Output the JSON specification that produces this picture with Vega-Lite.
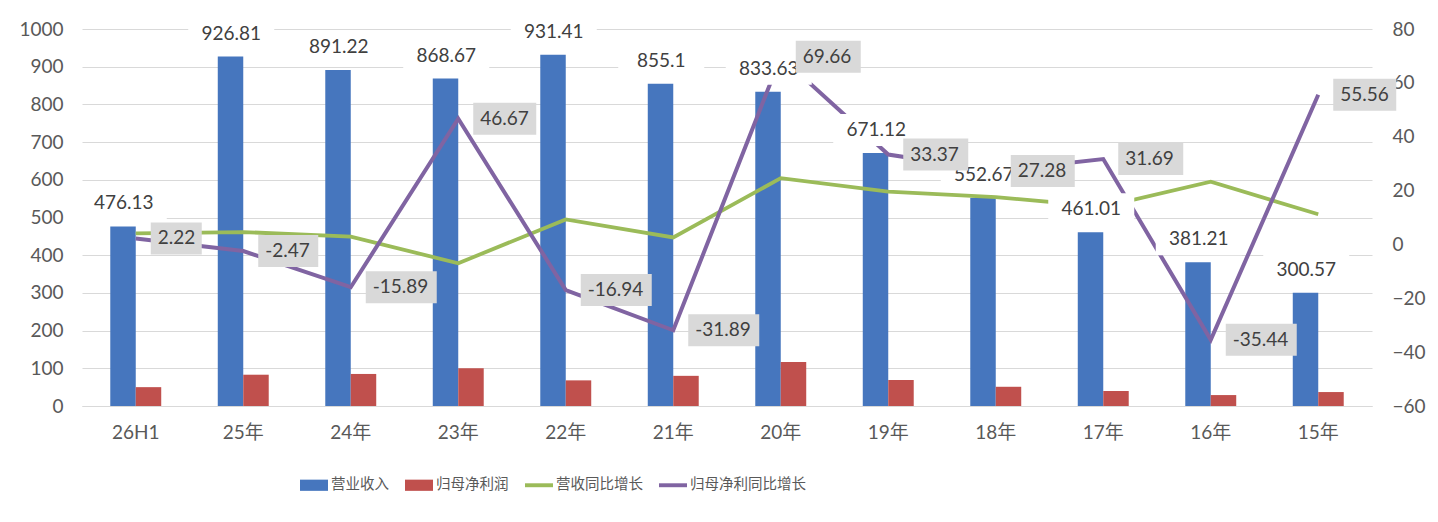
{
  "$schema": "https://vega.github.io/schema/vega-lite/v6.json",
  "width": 1290,
  "height": 377,
  "autosize": {"type": "none"},
  "padding": {"left": 82, "top": 29, "right": 66, "bottom": 116},
  "background": "white",
  "config": {
    "font": "Lato, 'Noto Sans CJK SC', sans-serif",
    "view": {"stroke": null},
    "axis": {"labelFont": "Lato, 'Noto Sans CJK SC', sans-serif", "labelFontSize": 19, "labelColor": "#595959", "ticks": false, "domain": false, "title": null}
  },
  "datasets": {
    "main": [
      {"cat": "26H1", "营业收入": 476.13, "归母净利润": 50, "营收同比增长": 4.1, "归母净利同比增长": 2.22},
      {"cat": "25年", "营业收入": 926.81, "归母净利润": 83, "营收同比增长": 4.6, "归母净利同比增长": -2.47},
      {"cat": "24年", "营业收入": 891.22, "归母净利润": 85, "营收同比增长": 2.9, "归母净利同比增长": -15.89},
      {"cat": "23年", "营业收入": 868.67, "归母净利润": 100, "营收同比增长": -7.0, "归母净利同比增长": 46.67},
      {"cat": "22年", "营业收入": 931.41, "归母净利润": 68, "营收同比增长": 9.3, "归母净利同比增长": -16.94},
      {"cat": "21年", "营业收入": 855.1, "归母净利润": 80, "营收同比增长": 2.6, "归母净利同比增长": -31.89},
      {"cat": "20年", "营业收入": 833.63, "归母净利润": 117, "营收同比增长": 24.6, "归母净利同比增长": 69.66},
      {"cat": "19年", "营业收入": 671.12, "归母净利润": 69, "营收同比增长": 19.6, "归母净利同比增长": 33.37},
      {"cat": "18年", "营业收入": 552.67, "归母净利润": 51, "营收同比增长": 17.6, "归母净利同比增长": 27.28},
      {"cat": "17年", "营业收入": 461.01, "归母净利润": 40, "营收同比增长": 14.0, "归母净利同比增长": 31.69},
      {"cat": "16年", "营业收入": 381.21, "归母净利润": 29, "营收同比增长": 23.3, "归母净利同比增长": -35.44},
      {"cat": "15年", "营业收入": 300.57, "归母净利润": 37, "营收同比增长": 11.2, "归母净利同比增长": 55.56}
    ]
  },
  "data": {"name": "main"},
  "encoding": {
    "x": {
      "field": "cat", "type": "nominal", "sort": null,
      "scale": {"domain": ["26H1","25年","24年","23年","22年","21年","20年","19年","18年","17年","16年","15年"], "paddingInner": 0.526, "paddingOuter": 0.263},
      "axis": {"labelAngle": 0, "domain": true, "domainColor": "#d9d9d9", "domainWidth": 1, "labelPadding": 17, "grid": false}
    }
  },
  "layer": [
    {
      "transform": [{"fold": ["营业收入", "归母净利润"], "as": ["series", "value"]}],
      "mark": {"type": "bar"},
      "encoding": {
        "xOffset": {"field": "series", "type": "nominal", "scale": {"domain": ["营业收入", "归母净利润"], "paddingInner": 0, "paddingOuter": 0}},
        "y": {"field": "value", "type": "quantitative", "scale": {"domain": [0, 1000], "nice": false, "zero": true},
          "axis": {"orient": "left", "format": "d", "values": [0,100,200,300,400,500,600,700,800,900,1000], "grid": true, "gridColor": "#d9d9d9", "gridWidth": 1, "labelPadding": 19}},
        "color": {
          "field": "series", "type": "nominal",
          "scale": {"domain": ["营业收入", "归母净利润", "营收同比增长", "归母净利同比增长"], "range": ["#4676BE", "#C0504D", "#9BBB59", "#8064A2"]},
          "legend": {
            "orient": "none", "legendX": 218, "legendY": 442, "direction": "horizontal", "title": null,
            "symbolSize": 784, "labelFontSize": 14.5, "labelFont": "'Noto Sans CJK SC', sans-serif", "labelColor": "#595959",
            "columnPadding": 16, "labelOffset": 3, "padding": 0,
            "encode": {"symbols": {"update": {
              "shape": {"signal": "(datum.value === '营业收入' || datum.value === '归母净利润') ? 'M-1,-0.4H1V0.4H-1Z' : 'M-1,-0.14H1V0.14H-1Z'"},
              "fill": {"scale": "color", "field": "value"},
              "stroke": {"value": "transparent"},
              "strokeWidth": {"value": 0},
              "opacity": {"value": 1}
            }}}
          }
        }
      }
    },
    {
      "mark": {"type": "line", "strokeWidth": 3.8},
      "encoding": {
        "y": {"field": "营收同比增长", "type": "quantitative", "scale": {"domain": [-60, 80], "nice": false, "zero": false},
          "axis": {"orient": "right", "values": [-60,-40,-20,0,20,40,60,80], "grid": false, "labelPadding": 20}},
        "color": {"datum": "营收同比增长"}
      }
    },
    {
      "mark": {"type": "line", "strokeWidth": 4},
      "encoding": {
        "y": {"field": "归母净利同比增长", "type": "quantitative", "scale": {"domain": [-60, 80], "nice": false, "zero": false}, "axis": null},
        "color": {"datum": "归母净利同比增长"}
      }
    },
    {
      "mark": {"type": "point", "filled": true, "fill": "white", "opacity": 1, "strokeWidth": 0, "size": 7396, "shape": "M-1.279,-0.907H0.721V-0.163H-1.279Z"},
      "encoding": {
        "y": {"field": "营业收入", "type": "quantitative", "scale": {"domain": [0, 1000], "nice": false}, "axis": null}
      }
    },
    {
      "mark": {"type": "text", "dx": -12, "dy": -23, "baseline": "middle", "align": "center", "fontSize": 19, "color": "#404040"},
      "encoding": {
        "y": {"field": "营业收入", "type": "quantitative", "scale": {"domain": [0, 1000], "nice": false}, "axis": null},
        "text": {"field": "营业收入", "type": "nominal"}
      }
    },
    {
      "mark": {"type": "point", "filled": true, "fill": "#d9d9d9", "opacity": 1, "strokeWidth": 0, "size": 400},
      "encoding": {
        "y": {"field": "归母净利同比增长", "type": "quantitative", "scale": {"domain": [-60, 80], "nice": false, "zero": false}, "axis": null},
        "shape": {"field": "cat", "type": "nominal", "legend": null,
          "scale": {"domain": ["26H1","25年","24年","23年","22年","21年","20年","19年","18年","17年","16年","15年"],
            "range": ["M1.5,-1.6H6.6V1.6H1.5Z","M1.5,-1.6H7.5V1.6H1.5Z","M1.5,-1.6H8.6V1.6H1.5Z","M1.5,-1.6H7.8V1.6H1.5Z","M1.5,-1.6H8.6V1.6H1.5Z","M1.5,-1.6H8.6V1.6H1.5Z","M1.5,-1.6H8.0V1.6H1.5Z","M1.5,-1.6H8.0V1.6H1.5Z","M1.5,-1.6H7.9V1.6H1.5Z","M1.5,-1.6H8.0V1.6H1.5Z","M1.5,-1.6H8.6V1.6H1.5Z","M1.5,-1.6H7.8V1.6H1.5Z"]}}
      }
    },
    {
      "mark": {"type": "text", "dx": 22, "baseline": "middle", "align": "left", "fontSize": 19, "color": "#404040"},
      "encoding": {
        "y": {"field": "归母净利同比增长", "type": "quantitative", "scale": {"domain": [-60, 80], "nice": false, "zero": false}, "axis": null},
        "text": {"field": "归母净利同比增长", "type": "nominal"}
      }
    }
  ],
  "resolve": {"scale": {"y": "independent"}, "axis": {"y": "independent"}}
}
